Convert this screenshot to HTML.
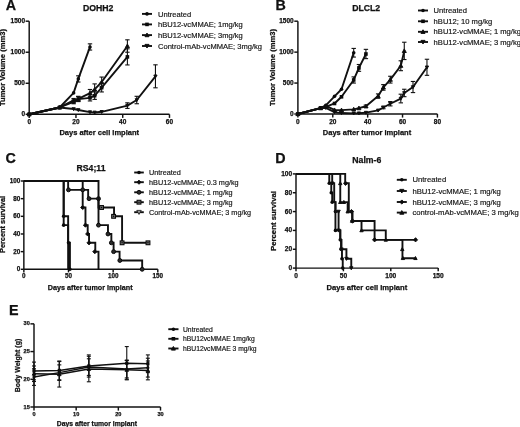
<!DOCTYPE html>
<html><head><meta charset="utf-8"><title>Figure</title>
<style>
html,body{margin:0;padding:0;background:#fff;}
body{width:520px;height:427px;overflow:hidden;}
svg{display:block;filter:blur(0.35px);font-family:"Liberation Sans",sans-serif;fill:#111;}
svg line, svg path{stroke:#111;}
svg text{stroke:#222;stroke-width:0.18px;}
svg text[font-weight=bold]{stroke:#111;stroke-width:0.25px;}
</style></head><body>
<svg width="520" height="427" viewBox="0 0 520 427">
<rect x="0" y="0" width="520" height="427" fill="#fff" stroke="none"/>

<g id="panelA">
<text x="5.8" y="10.1" font-size="14.3" font-weight="bold" text-anchor="start">A</text>
<text x="98.1" y="11.2" font-size="8.7" font-weight="bold" text-anchor="middle">DOHH2</text>
<line x1="29.20" y1="114.30" x2="169.48" y2="114.30" stroke-width="1.45"/>
<line x1="29.20" y1="114.30" x2="29.20" y2="21.19" stroke-width="1.45"/>
<line x1="29.20" y1="114.30" x2="29.20" y2="117.90" stroke-width="1.45"/>
<text x="29.2" y="124.1" font-size="6.5" font-weight="bold" text-anchor="middle">0</text>
<line x1="75.96" y1="114.30" x2="75.96" y2="117.90" stroke-width="1.45"/>
<text x="75.96" y="124.1" font-size="6.5" font-weight="bold" text-anchor="middle">20</text>
<line x1="122.72" y1="114.30" x2="122.72" y2="117.90" stroke-width="1.45"/>
<text x="122.72" y="124.1" font-size="6.5" font-weight="bold" text-anchor="middle">40</text>
<line x1="169.48" y1="114.30" x2="169.48" y2="117.90" stroke-width="1.45"/>
<text x="169.48" y="124.1" font-size="6.5" font-weight="bold" text-anchor="middle">60</text>
<line x1="25.60" y1="114.30" x2="29.20" y2="114.30" stroke-width="1.45"/>
<text x="25.0" y="116.24" font-size="6.5" font-weight="bold" text-anchor="end">0</text>
<line x1="25.60" y1="83.27" x2="29.20" y2="83.27" stroke-width="1.45"/>
<text x="25.0" y="85.2" font-size="6.5" font-weight="bold" text-anchor="end">500</text>
<line x1="25.60" y1="52.23" x2="29.20" y2="52.23" stroke-width="1.45"/>
<text x="25.0" y="54.17" font-size="6.5" font-weight="bold" text-anchor="end">1000</text>
<line x1="25.60" y1="21.19" x2="29.20" y2="21.19" stroke-width="1.45"/>
<text x="25.0" y="23.13" font-size="6.5" font-weight="bold" text-anchor="end">1500</text>
<text x="99.2" y="135.2" font-size="7.5" font-weight="bold" text-anchor="middle">Days after cell implant</text>
<text x="5.4" y="67.5" font-size="7.6" font-weight="bold" text-anchor="middle" transform="rotate(-90 5.4 67.5)">Tumor Volume (mm3)</text>
<path d="M29.20 114.30 L59.59 107.47 L73.62 92.89 L78.30 78.92 L89.99 46.95" fill="none" stroke-width="1.9" stroke-linejoin="round"/>
<line x1="78.30" y1="75.82" x2="78.30" y2="82.02" stroke-width="1.1"/>
<line x1="76.10" y1="75.82" x2="80.50" y2="75.82" stroke-width="1.1"/>
<line x1="76.10" y1="82.02" x2="80.50" y2="82.02" stroke-width="1.1"/>
<line x1="89.99" y1="43.85" x2="89.99" y2="50.06" stroke-width="1.1"/>
<line x1="87.79" y1="43.85" x2="92.19" y2="43.85" stroke-width="1.1"/>
<line x1="87.79" y1="50.06" x2="92.19" y2="50.06" stroke-width="1.1"/>
<circle cx="29.20" cy="114.30" r="1.8" fill="#0a0a0a" stroke="none"/>
<circle cx="59.59" cy="107.47" r="1.8" fill="#0a0a0a" stroke="none"/>
<circle cx="73.62" cy="92.89" r="1.8" fill="#0a0a0a" stroke="none"/>
<circle cx="78.30" cy="78.92" r="1.8" fill="#0a0a0a" stroke="none"/>
<circle cx="89.99" cy="46.95" r="1.8" fill="#0a0a0a" stroke="none"/>
<path d="M29.20 114.30 L59.59 107.47 L73.62 101.89 L78.30 99.09 L89.99 97.85 L94.66 95.68 L101.68 87.61 L127.40 56.89" fill="none" stroke-width="1.9" stroke-linejoin="round"/>
<line x1="73.62" y1="100.02" x2="73.62" y2="103.75" stroke-width="1.1"/>
<line x1="71.42" y1="100.02" x2="75.82" y2="100.02" stroke-width="1.1"/>
<line x1="71.42" y1="103.75" x2="75.82" y2="103.75" stroke-width="1.1"/>
<line x1="78.30" y1="96.61" x2="78.30" y2="101.58" stroke-width="1.1"/>
<line x1="76.10" y1="96.61" x2="80.50" y2="96.61" stroke-width="1.1"/>
<line x1="76.10" y1="101.58" x2="80.50" y2="101.58" stroke-width="1.1"/>
<line x1="89.99" y1="94.75" x2="89.99" y2="100.95" stroke-width="1.1"/>
<line x1="87.79" y1="94.75" x2="92.19" y2="94.75" stroke-width="1.1"/>
<line x1="87.79" y1="100.95" x2="92.19" y2="100.95" stroke-width="1.1"/>
<line x1="94.66" y1="91.95" x2="94.66" y2="99.40" stroke-width="1.1"/>
<line x1="92.46" y1="91.95" x2="96.86" y2="91.95" stroke-width="1.1"/>
<line x1="92.46" y1="99.40" x2="96.86" y2="99.40" stroke-width="1.1"/>
<line x1="101.68" y1="83.27" x2="101.68" y2="91.95" stroke-width="1.1"/>
<line x1="99.48" y1="83.27" x2="103.88" y2="83.27" stroke-width="1.1"/>
<line x1="99.48" y1="91.95" x2="103.88" y2="91.95" stroke-width="1.1"/>
<line x1="127.40" y1="48.82" x2="127.40" y2="64.95" stroke-width="1.1"/>
<line x1="125.20" y1="48.82" x2="129.60" y2="48.82" stroke-width="1.1"/>
<line x1="125.20" y1="64.95" x2="129.60" y2="64.95" stroke-width="1.1"/>
<rect x="27.40" y="112.50" width="3.6" height="3.6" fill="#0a0a0a" stroke="none"/>
<rect x="57.79" y="105.67" width="3.6" height="3.6" fill="#0a0a0a" stroke="none"/>
<rect x="71.82" y="100.09" width="3.6" height="3.6" fill="#0a0a0a" stroke="none"/>
<rect x="76.50" y="97.29" width="3.6" height="3.6" fill="#0a0a0a" stroke="none"/>
<rect x="88.19" y="96.05" width="3.6" height="3.6" fill="#0a0a0a" stroke="none"/>
<rect x="92.86" y="93.88" width="3.6" height="3.6" fill="#0a0a0a" stroke="none"/>
<rect x="99.88" y="85.81" width="3.6" height="3.6" fill="#0a0a0a" stroke="none"/>
<rect x="125.60" y="55.09" width="3.6" height="3.6" fill="#0a0a0a" stroke="none"/>
<path d="M29.20 114.30 L59.59 107.47 L73.62 100.33 L78.30 98.78 L89.99 93.20 L94.66 89.47 L101.68 82.02 L127.40 46.02" fill="none" stroke-width="1.9" stroke-linejoin="round"/>
<line x1="73.62" y1="98.47" x2="73.62" y2="102.20" stroke-width="1.1"/>
<line x1="71.42" y1="98.47" x2="75.82" y2="98.47" stroke-width="1.1"/>
<line x1="71.42" y1="102.20" x2="75.82" y2="102.20" stroke-width="1.1"/>
<line x1="78.30" y1="96.30" x2="78.30" y2="101.27" stroke-width="1.1"/>
<line x1="76.10" y1="96.30" x2="80.50" y2="96.30" stroke-width="1.1"/>
<line x1="76.10" y1="101.27" x2="80.50" y2="101.27" stroke-width="1.1"/>
<line x1="89.99" y1="89.47" x2="89.99" y2="96.92" stroke-width="1.1"/>
<line x1="87.79" y1="89.47" x2="92.19" y2="89.47" stroke-width="1.1"/>
<line x1="87.79" y1="96.92" x2="92.19" y2="96.92" stroke-width="1.1"/>
<line x1="94.66" y1="83.89" x2="94.66" y2="95.06" stroke-width="1.1"/>
<line x1="92.46" y1="83.89" x2="96.86" y2="83.89" stroke-width="1.1"/>
<line x1="92.46" y1="95.06" x2="96.86" y2="95.06" stroke-width="1.1"/>
<line x1="101.68" y1="77.06" x2="101.68" y2="86.99" stroke-width="1.1"/>
<line x1="99.48" y1="77.06" x2="103.88" y2="77.06" stroke-width="1.1"/>
<line x1="99.48" y1="86.99" x2="103.88" y2="86.99" stroke-width="1.1"/>
<line x1="127.40" y1="39.82" x2="127.40" y2="52.23" stroke-width="1.1"/>
<line x1="125.20" y1="39.82" x2="129.60" y2="39.82" stroke-width="1.1"/>
<line x1="125.20" y1="52.23" x2="129.60" y2="52.23" stroke-width="1.1"/>
<path d="M29.20 112.28 L31.22 115.91 L27.18 115.91Z" fill="#0a0a0a" stroke="none"/>
<path d="M59.59 105.46 L61.61 109.09 L57.58 109.09Z" fill="#0a0a0a" stroke="none"/>
<path d="M73.62 98.32 L75.64 101.95 L71.61 101.95Z" fill="#0a0a0a" stroke="none"/>
<path d="M78.30 96.77 L80.31 100.40 L76.28 100.40Z" fill="#0a0a0a" stroke="none"/>
<path d="M89.99 91.18 L92.00 94.81 L87.97 94.81Z" fill="#0a0a0a" stroke="none"/>
<path d="M94.66 87.46 L96.68 91.08 L92.65 91.08Z" fill="#0a0a0a" stroke="none"/>
<path d="M101.68 80.01 L103.69 83.64 L99.66 83.64Z" fill="#0a0a0a" stroke="none"/>
<path d="M127.40 44.01 L129.41 47.64 L125.38 47.64Z" fill="#0a0a0a" stroke="none"/>
<path d="M29.20 114.30 L59.59 107.47 L73.62 109.02 L78.30 109.96 L89.99 112.13 L94.66 112.44 L101.68 111.82 L127.40 105.61 L136.75 100.02 L155.45 76.31" fill="none" stroke-width="1.9" stroke-linejoin="round"/>
<line x1="127.40" y1="102.82" x2="127.40" y2="108.40" stroke-width="1.1"/>
<line x1="125.20" y1="102.82" x2="129.60" y2="102.82" stroke-width="1.1"/>
<line x1="125.20" y1="108.40" x2="129.60" y2="108.40" stroke-width="1.1"/>
<line x1="136.75" y1="96.30" x2="136.75" y2="103.75" stroke-width="1.1"/>
<line x1="134.55" y1="96.30" x2="138.95" y2="96.30" stroke-width="1.1"/>
<line x1="134.55" y1="103.75" x2="138.95" y2="103.75" stroke-width="1.1"/>
<line x1="155.45" y1="64.83" x2="155.45" y2="87.80" stroke-width="1.1"/>
<line x1="153.25" y1="64.83" x2="157.65" y2="64.83" stroke-width="1.1"/>
<line x1="153.25" y1="87.80" x2="157.65" y2="87.80" stroke-width="1.1"/>
<path d="M29.20 115.92 L30.82 113.00 L27.58 113.00Z" fill="#0a0a0a" stroke="none"/>
<path d="M59.59 109.10 L61.22 106.17 L57.97 106.17Z" fill="#0a0a0a" stroke="none"/>
<path d="M73.62 110.65 L75.25 107.72 L72.00 107.72Z" fill="#0a0a0a" stroke="none"/>
<path d="M78.30 111.58 L79.92 108.66 L76.67 108.66Z" fill="#0a0a0a" stroke="none"/>
<path d="M89.99 113.75 L91.61 110.83 L88.36 110.83Z" fill="#0a0a0a" stroke="none"/>
<path d="M94.66 114.06 L96.29 111.14 L93.04 111.14Z" fill="#0a0a0a" stroke="none"/>
<path d="M101.68 113.44 L103.30 110.52 L100.05 110.52Z" fill="#0a0a0a" stroke="none"/>
<path d="M127.40 107.23 L129.02 104.31 L125.77 104.31Z" fill="#0a0a0a" stroke="none"/>
<path d="M136.75 101.65 L138.37 98.72 L135.12 98.72Z" fill="#0a0a0a" stroke="none"/>
<path d="M155.45 77.94 L157.08 75.01 L153.83 75.01Z" fill="#0a0a0a" stroke="none"/>
<line x1="142.00" y1="13.90" x2="152.00" y2="13.90" stroke-width="1.9"/>
<circle cx="147.00" cy="13.90" r="1.8" fill="#0a0a0a" stroke="none"/>
<text x="158" y="16.5" font-size="7.56" text-anchor="start">Untreated</text>
<line x1="142.00" y1="24.40" x2="152.00" y2="24.40" stroke-width="1.9"/>
<rect x="145.20" y="22.60" width="3.6" height="3.6" fill="#0a0a0a" stroke="none"/>
<text x="158" y="27.0" font-size="7.56" text-anchor="start">hBU12-vcMMAE; 1mg/kg</text>
<line x1="142.00" y1="35.10" x2="152.00" y2="35.10" stroke-width="1.9"/>
<path d="M147.00 33.08 L149.02 36.71 L144.98 36.71Z" fill="#0a0a0a" stroke="none"/>
<text x="158" y="37.7" font-size="7.56" text-anchor="start">hBU12-vcMMAE; 3mg/kg</text>
<line x1="142.00" y1="46.00" x2="152.00" y2="46.00" stroke-width="1.9"/>
<path d="M147.00 48.02 L149.02 44.39 L144.98 44.39Z" fill="#0a0a0a" stroke="none"/>
<text x="158" y="48.6" font-size="7.56" text-anchor="start">Control-mAb-vcMMAE; 3mg/kg</text>
</g>
<g id="panelB">
<text x="275.4" y="10.1" font-size="14.3" font-weight="bold" text-anchor="start">B</text>
<text x="366.2" y="11.2" font-size="8.7" font-weight="bold" text-anchor="middle">DLCL2</text>
<line x1="297.90" y1="114.00" x2="437.42" y2="114.00" stroke-width="1.45"/>
<line x1="297.90" y1="114.00" x2="297.90" y2="21.19" stroke-width="1.45"/>
<line x1="297.90" y1="114.00" x2="297.90" y2="117.60" stroke-width="1.45"/>
<text x="297.9" y="123.8" font-size="6.5" font-weight="bold" text-anchor="middle">0</text>
<line x1="332.78" y1="114.00" x2="332.78" y2="117.60" stroke-width="1.45"/>
<text x="332.78" y="123.8" font-size="6.5" font-weight="bold" text-anchor="middle">20</text>
<line x1="367.66" y1="114.00" x2="367.66" y2="117.60" stroke-width="1.45"/>
<text x="367.66" y="123.8" font-size="6.5" font-weight="bold" text-anchor="middle">40</text>
<line x1="402.54" y1="114.00" x2="402.54" y2="117.60" stroke-width="1.45"/>
<text x="402.54" y="123.8" font-size="6.5" font-weight="bold" text-anchor="middle">60</text>
<line x1="437.42" y1="114.00" x2="437.42" y2="117.60" stroke-width="1.45"/>
<text x="437.42" y="123.8" font-size="6.5" font-weight="bold" text-anchor="middle">80</text>
<line x1="294.30" y1="114.00" x2="297.90" y2="114.00" stroke-width="1.45"/>
<text x="293.7" y="115.94" font-size="6.5" font-weight="bold" text-anchor="end">0</text>
<line x1="294.30" y1="83.06" x2="297.90" y2="83.06" stroke-width="1.45"/>
<text x="293.7" y="85.0" font-size="6.5" font-weight="bold" text-anchor="end">500</text>
<line x1="294.30" y1="52.13" x2="297.90" y2="52.13" stroke-width="1.45"/>
<text x="293.7" y="54.07" font-size="6.5" font-weight="bold" text-anchor="end">1000</text>
<line x1="294.30" y1="21.19" x2="297.90" y2="21.19" stroke-width="1.45"/>
<text x="293.7" y="23.13" font-size="6.5" font-weight="bold" text-anchor="end">1500</text>
<text x="367" y="135.0" font-size="7.5" font-weight="bold" text-anchor="middle">Days after tumor implant</text>
<text x="274.7" y="67.5" font-size="7.6" font-weight="bold" text-anchor="middle" transform="rotate(-90 274.7 67.5)">Tumor Volume (mm3)</text>
<path d="M297.90 114.00 L320.57 108.12 L325.80 105.34 L334.52 96.37 L341.50 89.25 L353.71 52.75" fill="none" stroke-width="1.9" stroke-linejoin="round"/>
<line x1="353.71" y1="48.42" x2="353.71" y2="57.08" stroke-width="1.1"/>
<line x1="351.51" y1="48.42" x2="355.91" y2="48.42" stroke-width="1.1"/>
<line x1="351.51" y1="57.08" x2="355.91" y2="57.08" stroke-width="1.1"/>
<circle cx="297.90" cy="114.00" r="1.8" fill="#0a0a0a" stroke="none"/>
<circle cx="320.57" cy="108.12" r="1.8" fill="#0a0a0a" stroke="none"/>
<circle cx="325.80" cy="105.34" r="1.8" fill="#0a0a0a" stroke="none"/>
<circle cx="334.52" cy="96.37" r="1.8" fill="#0a0a0a" stroke="none"/>
<circle cx="341.50" cy="89.25" r="1.8" fill="#0a0a0a" stroke="none"/>
<circle cx="353.71" cy="52.75" r="1.8" fill="#0a0a0a" stroke="none"/>
<path d="M297.90 114.00 L320.57 108.12 L325.80 106.88 L334.52 103.48 L341.50 96.80 L353.71 79.97 L358.94 67.91 L365.92 53.99" fill="none" stroke-width="1.9" stroke-linejoin="round"/>
<line x1="353.71" y1="76.88" x2="353.71" y2="83.06" stroke-width="1.1"/>
<line x1="351.51" y1="76.88" x2="355.91" y2="76.88" stroke-width="1.1"/>
<line x1="351.51" y1="83.06" x2="355.91" y2="83.06" stroke-width="1.1"/>
<line x1="358.94" y1="64.50" x2="358.94" y2="71.31" stroke-width="1.1"/>
<line x1="356.74" y1="64.50" x2="361.14" y2="64.50" stroke-width="1.1"/>
<line x1="356.74" y1="71.31" x2="361.14" y2="71.31" stroke-width="1.1"/>
<line x1="365.92" y1="49.35" x2="365.92" y2="58.63" stroke-width="1.1"/>
<line x1="363.72" y1="49.35" x2="368.12" y2="49.35" stroke-width="1.1"/>
<line x1="363.72" y1="58.63" x2="368.12" y2="58.63" stroke-width="1.1"/>
<rect x="296.10" y="112.20" width="3.6" height="3.6" fill="#0a0a0a" stroke="none"/>
<rect x="318.77" y="106.32" width="3.6" height="3.6" fill="#0a0a0a" stroke="none"/>
<rect x="324.00" y="105.08" width="3.6" height="3.6" fill="#0a0a0a" stroke="none"/>
<rect x="332.72" y="101.68" width="3.6" height="3.6" fill="#0a0a0a" stroke="none"/>
<rect x="339.70" y="95.00" width="3.6" height="3.6" fill="#0a0a0a" stroke="none"/>
<rect x="351.91" y="78.17" width="3.6" height="3.6" fill="#0a0a0a" stroke="none"/>
<rect x="357.14" y="66.11" width="3.6" height="3.6" fill="#0a0a0a" stroke="none"/>
<rect x="364.12" y="52.19" width="3.6" height="3.6" fill="#0a0a0a" stroke="none"/>
<path d="M297.90 114.00 L320.57 108.12 L325.80 105.96 L334.52 109.98 L341.50 110.16 L353.71 109.36 L358.94 108.12 L365.92 106.27 L378.12 96.06 L383.36 87.40 L390.33 79.66 L400.80 65.74 L404.28 50.89" fill="none" stroke-width="1.9" stroke-linejoin="round"/>
<line x1="365.92" y1="105.03" x2="365.92" y2="107.50" stroke-width="1.1"/>
<line x1="363.72" y1="105.03" x2="368.12" y2="105.03" stroke-width="1.1"/>
<line x1="363.72" y1="107.50" x2="368.12" y2="107.50" stroke-width="1.1"/>
<line x1="378.12" y1="93.89" x2="378.12" y2="98.22" stroke-width="1.1"/>
<line x1="375.92" y1="93.89" x2="380.32" y2="93.89" stroke-width="1.1"/>
<line x1="375.92" y1="98.22" x2="380.32" y2="98.22" stroke-width="1.1"/>
<line x1="383.36" y1="84.61" x2="383.36" y2="90.18" stroke-width="1.1"/>
<line x1="381.16" y1="84.61" x2="385.56" y2="84.61" stroke-width="1.1"/>
<line x1="381.16" y1="90.18" x2="385.56" y2="90.18" stroke-width="1.1"/>
<line x1="390.33" y1="76.26" x2="390.33" y2="83.06" stroke-width="1.1"/>
<line x1="388.13" y1="76.26" x2="392.53" y2="76.26" stroke-width="1.1"/>
<line x1="388.13" y1="83.06" x2="392.53" y2="83.06" stroke-width="1.1"/>
<line x1="400.80" y1="60.79" x2="400.80" y2="70.69" stroke-width="1.1"/>
<line x1="398.60" y1="60.79" x2="403.00" y2="60.79" stroke-width="1.1"/>
<line x1="398.60" y1="70.69" x2="403.00" y2="70.69" stroke-width="1.1"/>
<line x1="404.28" y1="42.23" x2="404.28" y2="59.55" stroke-width="1.1"/>
<line x1="402.08" y1="42.23" x2="406.48" y2="42.23" stroke-width="1.1"/>
<line x1="402.08" y1="59.55" x2="406.48" y2="59.55" stroke-width="1.1"/>
<path d="M297.90 111.98 L299.92 115.61 L295.88 115.61Z" fill="#0a0a0a" stroke="none"/>
<path d="M320.57 106.11 L322.59 109.74 L318.56 109.74Z" fill="#0a0a0a" stroke="none"/>
<path d="M325.80 103.94 L327.82 107.57 L323.79 107.57Z" fill="#0a0a0a" stroke="none"/>
<path d="M334.52 107.96 L336.54 111.59 L332.51 111.59Z" fill="#0a0a0a" stroke="none"/>
<path d="M341.50 108.15 L343.52 111.78 L339.48 111.78Z" fill="#0a0a0a" stroke="none"/>
<path d="M353.71 107.34 L355.72 110.97 L351.69 110.97Z" fill="#0a0a0a" stroke="none"/>
<path d="M358.94 106.11 L360.96 109.74 L356.92 109.74Z" fill="#0a0a0a" stroke="none"/>
<path d="M365.92 104.25 L367.93 107.88 L363.90 107.88Z" fill="#0a0a0a" stroke="none"/>
<path d="M378.12 94.04 L380.14 97.67 L376.11 97.67Z" fill="#0a0a0a" stroke="none"/>
<path d="M383.36 85.38 L385.37 89.01 L381.34 89.01Z" fill="#0a0a0a" stroke="none"/>
<path d="M390.33 77.65 L392.35 81.27 L388.32 81.27Z" fill="#0a0a0a" stroke="none"/>
<path d="M400.80 63.73 L402.81 67.35 L398.78 67.35Z" fill="#0a0a0a" stroke="none"/>
<path d="M404.28 48.88 L406.30 52.51 L402.27 52.51Z" fill="#0a0a0a" stroke="none"/>
<path d="M297.90 114.00 L320.57 108.12 L325.80 107.81 L334.52 112.14 L341.50 113.07 L353.71 113.38 L358.94 113.26 L365.92 112.64 L378.12 110.41 L383.36 107.50 L390.33 103.73 L400.80 98.53 L404.28 92.96 L413.00 87.02 L426.96 67.29" fill="none" stroke-width="1.9" stroke-linejoin="round"/>
<line x1="383.36" y1="106.27" x2="383.36" y2="108.74" stroke-width="1.1"/>
<line x1="381.16" y1="106.27" x2="385.56" y2="106.27" stroke-width="1.1"/>
<line x1="381.16" y1="108.74" x2="385.56" y2="108.74" stroke-width="1.1"/>
<line x1="390.33" y1="101.56" x2="390.33" y2="105.90" stroke-width="1.1"/>
<line x1="388.13" y1="101.56" x2="392.53" y2="101.56" stroke-width="1.1"/>
<line x1="388.13" y1="105.90" x2="392.53" y2="105.90" stroke-width="1.1"/>
<line x1="400.80" y1="94.20" x2="400.80" y2="102.86" stroke-width="1.1"/>
<line x1="398.60" y1="94.20" x2="403.00" y2="94.20" stroke-width="1.1"/>
<line x1="398.60" y1="102.86" x2="403.00" y2="102.86" stroke-width="1.1"/>
<line x1="404.28" y1="89.25" x2="404.28" y2="96.68" stroke-width="1.1"/>
<line x1="402.08" y1="89.25" x2="406.48" y2="89.25" stroke-width="1.1"/>
<line x1="402.08" y1="96.68" x2="406.48" y2="96.68" stroke-width="1.1"/>
<line x1="413.00" y1="81.46" x2="413.00" y2="92.59" stroke-width="1.1"/>
<line x1="410.80" y1="81.46" x2="415.20" y2="81.46" stroke-width="1.1"/>
<line x1="410.80" y1="92.59" x2="415.20" y2="92.59" stroke-width="1.1"/>
<line x1="426.96" y1="59.25" x2="426.96" y2="75.33" stroke-width="1.1"/>
<line x1="424.76" y1="59.25" x2="429.16" y2="59.25" stroke-width="1.1"/>
<line x1="424.76" y1="75.33" x2="429.16" y2="75.33" stroke-width="1.1"/>
<path d="M297.90 115.62 L299.52 112.70 L296.28 112.70Z" fill="#0a0a0a" stroke="none"/>
<path d="M320.57 109.75 L322.20 106.82 L318.95 106.82Z" fill="#0a0a0a" stroke="none"/>
<path d="M325.80 109.44 L327.43 106.51 L324.18 106.51Z" fill="#0a0a0a" stroke="none"/>
<path d="M334.52 113.77 L336.15 110.84 L332.90 110.84Z" fill="#0a0a0a" stroke="none"/>
<path d="M341.50 114.70 L343.12 111.77 L339.88 111.77Z" fill="#0a0a0a" stroke="none"/>
<path d="M353.71 115.01 L355.33 112.08 L352.08 112.08Z" fill="#0a0a0a" stroke="none"/>
<path d="M358.94 114.88 L360.56 111.96 L357.32 111.96Z" fill="#0a0a0a" stroke="none"/>
<path d="M365.92 114.26 L367.54 111.34 L364.29 111.34Z" fill="#0a0a0a" stroke="none"/>
<path d="M378.12 112.04 L379.75 109.11 L376.50 109.11Z" fill="#0a0a0a" stroke="none"/>
<path d="M383.36 109.13 L384.98 106.20 L381.73 106.20Z" fill="#0a0a0a" stroke="none"/>
<path d="M390.33 105.35 L391.96 102.43 L388.71 102.43Z" fill="#0a0a0a" stroke="none"/>
<path d="M400.80 100.16 L402.42 97.23 L399.17 97.23Z" fill="#0a0a0a" stroke="none"/>
<path d="M404.28 94.59 L405.91 91.67 L402.66 91.67Z" fill="#0a0a0a" stroke="none"/>
<path d="M413.00 88.65 L414.63 85.73 L411.38 85.73Z" fill="#0a0a0a" stroke="none"/>
<path d="M426.96 68.91 L428.58 65.99 L425.33 65.99Z" fill="#0a0a0a" stroke="none"/>
<line x1="418.00" y1="10.50" x2="428.00" y2="10.50" stroke-width="1.9"/>
<circle cx="423.00" cy="10.50" r="1.8" fill="#0a0a0a" stroke="none"/>
<text x="433.6" y="13.1" font-size="7.6" text-anchor="start">Untreated</text>
<line x1="418.00" y1="21.30" x2="428.00" y2="21.30" stroke-width="1.9"/>
<rect x="421.20" y="19.50" width="3.6" height="3.6" fill="#0a0a0a" stroke="none"/>
<text x="433.6" y="23.9" font-size="7.6" text-anchor="start">hBU12; 10 mg/kg</text>
<line x1="418.00" y1="31.80" x2="428.00" y2="31.80" stroke-width="1.9"/>
<path d="M423.00 29.78 L425.02 33.41 L420.98 33.41Z" fill="#0a0a0a" stroke="none"/>
<text x="433.6" y="34.4" font-size="7.6" text-anchor="start">hBU12-vcMMAE; 1 mg/kg</text>
<line x1="418.00" y1="42.00" x2="428.00" y2="42.00" stroke-width="1.9"/>
<path d="M423.00 44.02 L425.02 40.39 L420.98 40.39Z" fill="#0a0a0a" stroke="none"/>
<text x="433.6" y="44.6" font-size="7.6" text-anchor="start">hBU12-vcMMAE; 3 mg/kg</text>
</g>
<g id="panelC">
<text x="5.6" y="162.6" font-size="14.3" font-weight="bold" text-anchor="start">C</text>
<text x="91" y="171.2" font-size="8.7" font-weight="bold" text-anchor="middle">RS4;11</text>
<line x1="23.85" y1="269.30" x2="157.80" y2="269.30" stroke-width="1.45"/>
<line x1="23.85" y1="269.30" x2="23.85" y2="181.00" stroke-width="1.45"/>
<line x1="23.85" y1="269.30" x2="23.85" y2="272.40" stroke-width="1.45"/>
<text x="23.85" y="278.3" font-size="6.3" font-weight="bold" text-anchor="middle">0</text>
<line x1="68.50" y1="269.30" x2="68.50" y2="272.40" stroke-width="1.45"/>
<text x="68.5" y="278.3" font-size="6.3" font-weight="bold" text-anchor="middle">50</text>
<line x1="113.15" y1="269.30" x2="113.15" y2="272.40" stroke-width="1.45"/>
<text x="113.15" y="278.3" font-size="6.3" font-weight="bold" text-anchor="middle">100</text>
<line x1="157.80" y1="269.30" x2="157.80" y2="272.40" stroke-width="1.45"/>
<text x="157.8" y="278.3" font-size="6.3" font-weight="bold" text-anchor="middle">150</text>
<line x1="20.75" y1="269.30" x2="23.85" y2="269.30" stroke-width="1.45"/>
<text x="20.15" y="271.17" font-size="6.3" font-weight="bold" text-anchor="end">0</text>
<line x1="20.75" y1="251.64" x2="23.85" y2="251.64" stroke-width="1.45"/>
<text x="20.15" y="253.51" font-size="6.3" font-weight="bold" text-anchor="end">20</text>
<line x1="20.75" y1="233.98" x2="23.85" y2="233.98" stroke-width="1.45"/>
<text x="20.15" y="235.85" font-size="6.3" font-weight="bold" text-anchor="end">40</text>
<line x1="20.75" y1="216.32" x2="23.85" y2="216.32" stroke-width="1.45"/>
<text x="20.15" y="218.19" font-size="6.3" font-weight="bold" text-anchor="end">60</text>
<line x1="20.75" y1="198.66" x2="23.85" y2="198.66" stroke-width="1.45"/>
<text x="20.15" y="200.53" font-size="6.3" font-weight="bold" text-anchor="end">80</text>
<line x1="20.75" y1="181.00" x2="23.85" y2="181.00" stroke-width="1.45"/>
<text x="20.15" y="182.87" font-size="6.3" font-weight="bold" text-anchor="end">100</text>
<text x="90.2" y="289.6" font-size="7.2" font-weight="bold" text-anchor="middle">Days after tumor implant</text>
<text x="5.3" y="224.5" font-size="7.4" font-weight="bold" text-anchor="middle" transform="rotate(-90 5.3 224.5)">Percent survival</text>
<path d="M23.85 181.00 L63.68 181.00 L63.68 216.32 L68.14 216.32 L68.14 269.30" fill="none" stroke-width="1.9" stroke-linejoin="miter"/>
<path d="M23.85 181.00 L63.68 181.00 L63.68 225.15 L68.14 225.15 L68.14 242.81 L69.93 242.81 L69.93 269.30" fill="none" stroke-width="1.9" stroke-linejoin="miter"/>
<circle cx="63.68" cy="216.32" r="1.8" fill="#0a0a0a" stroke="none"/>
<circle cx="63.68" cy="225.15" r="1.8" fill="#0a0a0a" stroke="none"/>
<circle cx="68.50" cy="242.81" r="1.8" fill="#0a0a0a" stroke="none"/>
<circle cx="69.93" cy="269.30" r="1.8" fill="#0a0a0a" stroke="none"/>
<path d="M23.85 181.00 L82.70 181.00 L82.70 207.49 L85.47 207.49 L85.47 225.15 L87.70 225.15 L87.70 233.98 L89.04 233.98 L89.04 242.81 L95.29 242.81 L95.29 251.64 L98.50 251.64 L98.50 269.30" fill="none" stroke-width="1.9" stroke-linejoin="miter"/>
<path d="M82.70 205.42 L84.77 207.49 L82.70 209.56 L80.63 207.49Z" fill="#0a0a0a" stroke="none"/>
<path d="M85.47 223.08 L87.54 225.15 L85.47 227.22 L83.40 225.15Z" fill="#0a0a0a" stroke="none"/>
<path d="M87.70 231.91 L89.77 233.98 L87.70 236.05 L85.63 233.98Z" fill="#0a0a0a" stroke="none"/>
<path d="M89.04 240.74 L91.11 242.81 L89.04 244.88 L86.97 242.81Z" fill="#0a0a0a" stroke="none"/>
<path d="M94.84 249.57 L96.91 251.64 L94.84 253.71 L92.77 251.64Z" fill="#0a0a0a" stroke="none"/>
<path d="M23.85 181.00 L68.14 181.00 L68.14 189.83 L88.15 189.83 L88.15 198.66 L98.50 198.66 L98.50 225.15 L107.97 225.15 L107.97 233.98 L111.36 233.98 L111.36 242.81 L113.60 242.81 L113.60 251.64 L119.58 251.64 L119.58 260.47 L142.17 260.47 L142.17 269.30" fill="none" stroke-width="1.9" stroke-linejoin="miter"/>
<circle cx="68.50" cy="189.83" r="1.95" fill="#2a2a2a" stroke="#0a0a0a" stroke-width="1.0"/>
<circle cx="82.70" cy="189.83" r="1.95" fill="#2a2a2a" stroke="#0a0a0a" stroke-width="1.0"/>
<circle cx="89.04" cy="198.66" r="1.95" fill="#2a2a2a" stroke="#0a0a0a" stroke-width="1.0"/>
<circle cx="98.50" cy="198.66" r="1.95" fill="#2a2a2a" stroke="#0a0a0a" stroke-width="1.0"/>
<circle cx="98.50" cy="225.15" r="1.95" fill="#2a2a2a" stroke="#0a0a0a" stroke-width="1.0"/>
<circle cx="107.97" cy="233.98" r="1.95" fill="#2a2a2a" stroke="#0a0a0a" stroke-width="1.0"/>
<circle cx="111.36" cy="242.81" r="1.95" fill="#2a2a2a" stroke="#0a0a0a" stroke-width="1.0"/>
<circle cx="113.60" cy="251.64" r="1.95" fill="#2a2a2a" stroke="#0a0a0a" stroke-width="1.0"/>
<circle cx="119.85" cy="260.47" r="1.95" fill="#2a2a2a" stroke="#0a0a0a" stroke-width="1.0"/>
<circle cx="142.17" cy="269.30" r="1.95" fill="#2a2a2a" stroke="#0a0a0a" stroke-width="1.0"/>
<path d="M23.85 181.00 L98.50 181.00 L98.50 207.49 L114.04 207.49 L114.04 216.32 L122.08 216.32 L122.08 242.81 L147.98 242.81" fill="none" stroke-width="1.9" stroke-linejoin="miter"/>
<rect x="99.64" y="205.59" width="3.80" height="3.80" fill="#777" stroke="#0a0a0a" stroke-width="1.1"/>
<circle cx="101.54" cy="207.49" r="0.8" fill="#0a0a0a" stroke="none"/>
<rect x="111.70" y="214.42" width="3.80" height="3.80" fill="#777" stroke="#0a0a0a" stroke-width="1.1"/>
<circle cx="113.60" cy="216.32" r="0.8" fill="#0a0a0a" stroke="none"/>
<rect x="120.18" y="240.91" width="3.80" height="3.80" fill="#777" stroke="#0a0a0a" stroke-width="1.1"/>
<circle cx="122.08" cy="242.81" r="0.8" fill="#0a0a0a" stroke="none"/>
<rect x="146.08" y="240.91" width="3.80" height="3.80" fill="#777" stroke="#0a0a0a" stroke-width="1.1"/>
<circle cx="147.98" cy="242.81" r="0.8" fill="#0a0a0a" stroke="none"/>
<line x1="134.20" y1="172.50" x2="143.80" y2="172.50" stroke-width="1.9"/>
<circle cx="139.00" cy="172.50" r="1.8" fill="#0a0a0a" stroke="none"/>
<text x="149.0" y="175.1" font-size="7.27" text-anchor="start">Untreated</text>
<line x1="134.20" y1="182.20" x2="143.80" y2="182.20" stroke-width="1.9"/>
<path d="M139.00 180.13 L141.07 182.20 L139.00 184.27 L136.93 182.20Z" fill="#0a0a0a" stroke="none"/>
<text x="149.0" y="184.8" font-size="7.27" text-anchor="start">hBU12-vcMMAE; 0.3 mg/kg</text>
<line x1="134.20" y1="192.30" x2="143.80" y2="192.30" stroke-width="1.9"/>
<circle cx="139.00" cy="192.30" r="1.95" fill="#2a2a2a" stroke="#0a0a0a" stroke-width="1.0"/>
<text x="149.0" y="194.9" font-size="7.27" text-anchor="start">hBU12-vcMMAE; 1 mg/kg</text>
<line x1="134.20" y1="202.20" x2="143.80" y2="202.20" stroke-width="1.9"/>
<rect x="137.10" y="200.30" width="3.80" height="3.80" fill="#777" stroke="#0a0a0a" stroke-width="1.1"/>
<circle cx="139.00" cy="202.20" r="0.8" fill="#0a0a0a" stroke="none"/>
<text x="149.0" y="204.8" font-size="7.27" text-anchor="start">hBU12-vcMMAE; 3 mg/kg</text>
<line x1="134.20" y1="212.20" x2="143.80" y2="212.20" stroke-width="1.9"/>
<path d="M139.00 214.45 L141.25 210.40 L136.75 210.40Z" fill="#999" stroke="#0a0a0a" stroke-width="0.8"/>
<text x="149.0" y="214.8" font-size="7.27" text-anchor="start">Control-mAb-vcMMAE; 3 mg/kg</text>
</g>
<g id="panelD">
<text x="275.3" y="162.7" font-size="14.3" font-weight="bold" text-anchor="start">D</text>
<text x="366.8" y="163.3" font-size="8.7" font-weight="bold" text-anchor="middle">Nalm-6</text>
<line x1="296.00" y1="268.10" x2="438.20" y2="268.10" stroke-width="1.45"/>
<line x1="296.00" y1="268.10" x2="296.00" y2="173.90" stroke-width="1.45"/>
<line x1="296.00" y1="268.10" x2="296.00" y2="271.30" stroke-width="1.45"/>
<text x="296.0" y="277.7" font-size="6.6" font-weight="bold" text-anchor="middle">0</text>
<line x1="343.40" y1="268.10" x2="343.40" y2="271.30" stroke-width="1.45"/>
<text x="343.4" y="277.7" font-size="6.6" font-weight="bold" text-anchor="middle">50</text>
<line x1="390.80" y1="268.10" x2="390.80" y2="271.30" stroke-width="1.45"/>
<text x="390.8" y="277.7" font-size="6.6" font-weight="bold" text-anchor="middle">100</text>
<line x1="438.20" y1="268.10" x2="438.20" y2="271.30" stroke-width="1.45"/>
<text x="438.2" y="277.7" font-size="6.6" font-weight="bold" text-anchor="middle">150</text>
<line x1="292.80" y1="268.10" x2="296.00" y2="268.10" stroke-width="1.45"/>
<text x="292.2" y="270.08" font-size="6.6" font-weight="bold" text-anchor="end">0</text>
<line x1="292.80" y1="249.26" x2="296.00" y2="249.26" stroke-width="1.45"/>
<text x="292.2" y="251.24" font-size="6.6" font-weight="bold" text-anchor="end">20</text>
<line x1="292.80" y1="230.42" x2="296.00" y2="230.42" stroke-width="1.45"/>
<text x="292.2" y="232.4" font-size="6.6" font-weight="bold" text-anchor="end">40</text>
<line x1="292.80" y1="211.58" x2="296.00" y2="211.58" stroke-width="1.45"/>
<text x="292.2" y="213.56" font-size="6.6" font-weight="bold" text-anchor="end">60</text>
<line x1="292.80" y1="192.74" x2="296.00" y2="192.74" stroke-width="1.45"/>
<text x="292.2" y="194.72" font-size="6.6" font-weight="bold" text-anchor="end">80</text>
<line x1="292.80" y1="173.90" x2="296.00" y2="173.90" stroke-width="1.45"/>
<text x="292.2" y="175.88" font-size="6.6" font-weight="bold" text-anchor="end">100</text>
<text x="366.9" y="289.5" font-size="7.62" font-weight="bold" text-anchor="middle">Days after cell implant</text>
<text x="276" y="221" font-size="7.75" font-weight="bold" text-anchor="middle" transform="rotate(-90 276 221)">Percent survival</text>
<path d="M296.00 173.90 L329.27 173.90 L329.27 183.32 L331.27 183.32 L331.27 192.74 L332.21 192.74 L332.21 202.16 L335.44 202.16 L335.44 230.42 L340.27 230.42 L340.27 239.84 L341.03 239.84 L341.03 249.26 L341.98 249.26 L341.98 258.68 L342.74 258.68 L342.74 268.10" fill="none" stroke-width="1.9" stroke-linejoin="miter"/>
<circle cx="329.27" cy="183.32" r="1.8" fill="#0a0a0a" stroke="none"/>
<circle cx="331.27" cy="192.74" r="1.8" fill="#0a0a0a" stroke="none"/>
<circle cx="332.21" cy="202.16" r="1.8" fill="#0a0a0a" stroke="none"/>
<circle cx="335.44" cy="211.58" r="1.8" fill="#0a0a0a" stroke="none"/>
<circle cx="335.44" cy="230.42" r="1.8" fill="#0a0a0a" stroke="none"/>
<circle cx="340.27" cy="239.84" r="1.8" fill="#0a0a0a" stroke="none"/>
<circle cx="341.03" cy="249.26" r="1.8" fill="#0a0a0a" stroke="none"/>
<circle cx="341.98" cy="258.68" r="1.8" fill="#0a0a0a" stroke="none"/>
<circle cx="342.74" cy="268.10" r="1.8" fill="#0a0a0a" stroke="none"/>
<path d="M296.00 173.90 L332.21 173.90 L332.21 183.32 L334.20 183.32 L334.20 202.16 L335.44 202.16 L335.44 211.58 L338.57 211.58 L338.57 230.42 L340.27 230.42 L340.27 239.84 L341.50 239.84 L341.50 249.26 L346.43 249.26 L346.43 258.68 L351.27 258.68 L351.27 268.10" fill="none" stroke-width="1.9" stroke-linejoin="miter"/>
<path d="M332.21 185.00 L333.89 181.98 L330.53 181.98Z" fill="#0a0a0a" stroke="none"/>
<path d="M338.57 213.26 L340.25 210.24 L336.89 210.24Z" fill="#0a0a0a" stroke="none"/>
<path d="M338.57 232.10 L340.25 229.08 L336.89 229.08Z" fill="#0a0a0a" stroke="none"/>
<path d="M341.50 250.94 L343.18 247.92 L339.82 247.92Z" fill="#0a0a0a" stroke="none"/>
<path d="M346.43 260.36 L348.11 257.34 L344.75 257.34Z" fill="#0a0a0a" stroke="none"/>
<path d="M351.27 269.78 L352.95 266.76 L349.59 266.76Z" fill="#0a0a0a" stroke="none"/>
<path d="M296.00 173.90 L345.20 173.90 L345.20 183.32 L348.80 183.32 L348.80 211.58 L352.50 211.58 L352.50 221.00 L374.59 221.00 L374.59 239.84 L415.54 239.84" fill="none" stroke-width="1.9" stroke-linejoin="miter"/>
<path d="M345.58 181.25 L347.65 183.32 L345.58 185.39 L343.51 183.32Z" fill="#0a0a0a" stroke="none"/>
<path d="M351.46 209.51 L353.53 211.58 L351.46 213.65 L349.39 211.58Z" fill="#0a0a0a" stroke="none"/>
<path d="M352.50 218.93 L354.57 221.00 L352.50 223.07 L350.43 221.00Z" fill="#0a0a0a" stroke="none"/>
<path d="M374.59 237.77 L376.66 239.84 L374.59 241.91 L372.52 239.84Z" fill="#0a0a0a" stroke="none"/>
<path d="M415.54 237.77 L417.61 239.84 L415.54 241.91 L413.47 239.84Z" fill="#0a0a0a" stroke="none"/>
<path d="M296.00 173.90 L340.27 173.90 L340.27 202.16 L347.67 202.16 L347.67 211.58 L352.12 211.58 L352.12 221.00 L361.51 221.00 L361.51 230.42 L385.78 230.42 L385.78 239.84 L402.46 239.84 L402.46 258.21 L415.54 258.21" fill="none" stroke-width="1.9" stroke-linejoin="miter"/>
<path d="M340.27 181.64 L341.95 184.66 L338.59 184.66Z" fill="#0a0a0a" stroke="none"/>
<path d="M340.27 200.48 L341.95 203.50 L338.59 203.50Z" fill="#0a0a0a" stroke="none"/>
<path d="M343.87 200.48 L345.55 203.50 L342.19 203.50Z" fill="#0a0a0a" stroke="none"/>
<path d="M347.67 209.90 L349.35 212.92 L345.99 212.92Z" fill="#0a0a0a" stroke="none"/>
<path d="M352.12 219.32 L353.80 222.34 L350.44 222.34Z" fill="#0a0a0a" stroke="none"/>
<path d="M361.51 228.74 L363.19 231.76 L359.83 231.76Z" fill="#0a0a0a" stroke="none"/>
<path d="M385.78 238.16 L387.46 241.18 L384.10 241.18Z" fill="#0a0a0a" stroke="none"/>
<path d="M402.27 247.58 L403.95 250.60 L400.59 250.60Z" fill="#0a0a0a" stroke="none"/>
<path d="M402.93 256.53 L404.61 259.55 L401.25 259.55Z" fill="#0a0a0a" stroke="none"/>
<path d="M415.45 256.53 L417.13 259.55 L413.77 259.55Z" fill="#0a0a0a" stroke="none"/>
<line x1="396.80" y1="179.80" x2="406.80" y2="179.80" stroke-width="1.9"/>
<circle cx="401.80" cy="179.80" r="1.8" fill="#0a0a0a" stroke="none"/>
<text x="412.4" y="182.4" font-size="7.7" text-anchor="start">Untreated</text>
<line x1="396.80" y1="191.00" x2="406.80" y2="191.00" stroke-width="1.9"/>
<path d="M401.80 193.02 L403.82 189.39 L399.78 189.39Z" fill="#0a0a0a" stroke="none"/>
<text x="412.4" y="193.6" font-size="7.7" text-anchor="start">hBU12-vcMMAE; 1 mg/kg</text>
<line x1="396.80" y1="202.00" x2="406.80" y2="202.00" stroke-width="1.9"/>
<path d="M401.80 199.93 L403.87 202.00 L401.80 204.07 L399.73 202.00Z" fill="#0a0a0a" stroke="none"/>
<text x="412.4" y="204.6" font-size="7.7" text-anchor="start">hBU12-vcMMAE; 3 mg/kg</text>
<line x1="396.80" y1="212.60" x2="406.80" y2="212.60" stroke-width="1.9"/>
<path d="M401.80 210.58 L403.82 214.21 L399.78 214.21Z" fill="#0a0a0a" stroke="none"/>
<text x="412.4" y="215.2" font-size="7.7" text-anchor="start">control-mAb-vcMMAE; 3 mg/kg</text>
</g>
<g id="panelE">
<text x="9.0" y="315.0" font-size="14.3" font-weight="bold" text-anchor="start">E</text>
<line x1="34.00" y1="407.00" x2="160.51" y2="407.00" stroke-width="1.45"/>
<line x1="34.00" y1="407.00" x2="34.00" y2="323.86" stroke-width="1.45"/>
<line x1="34.00" y1="407.00" x2="34.00" y2="410.60" stroke-width="1.45"/>
<text x="34.0" y="415.5" font-size="5.6" font-weight="bold" text-anchor="middle">0</text>
<line x1="76.17" y1="407.00" x2="76.17" y2="410.60" stroke-width="1.45"/>
<text x="76.17" y="415.5" font-size="5.6" font-weight="bold" text-anchor="middle">10</text>
<line x1="118.34" y1="407.00" x2="118.34" y2="410.60" stroke-width="1.45"/>
<text x="118.34" y="415.5" font-size="5.6" font-weight="bold" text-anchor="middle">20</text>
<line x1="160.51" y1="407.00" x2="160.51" y2="410.60" stroke-width="1.45"/>
<text x="160.51" y="415.5" font-size="5.6" font-weight="bold" text-anchor="middle">30</text>
<line x1="30.40" y1="407.00" x2="34.00" y2="407.00" stroke-width="1.45"/>
<text x="29.8" y="408.62" font-size="5.6" font-weight="bold" text-anchor="end">15</text>
<line x1="30.40" y1="379.29" x2="34.00" y2="379.29" stroke-width="1.45"/>
<text x="29.8" y="380.9" font-size="5.6" font-weight="bold" text-anchor="end">20</text>
<line x1="30.40" y1="351.57" x2="34.00" y2="351.57" stroke-width="1.45"/>
<text x="29.8" y="353.19" font-size="5.6" font-weight="bold" text-anchor="end">25</text>
<line x1="30.40" y1="323.86" x2="34.00" y2="323.86" stroke-width="1.45"/>
<text x="29.8" y="325.47" font-size="5.6" font-weight="bold" text-anchor="end">30</text>
<text x="96.9" y="425.8" font-size="6.8" font-weight="bold" text-anchor="middle">Days after tumor implant</text>
<text x="20.0" y="365.5" font-size="7.0" font-weight="bold" text-anchor="middle" transform="rotate(-90 20.0 365.5)">Body Weight (g)</text>
<path d="M34.00 377.07 L59.30 372.63 L88.82 367.09 L126.77 369.03 L147.86 367.64" fill="none" stroke-width="1.5" stroke-linejoin="round"/>
<line x1="34.00" y1="368.75" x2="34.00" y2="385.38" stroke-width="1.1"/>
<line x1="32.00" y1="368.75" x2="36.00" y2="368.75" stroke-width="1.1"/>
<line x1="32.00" y1="385.38" x2="36.00" y2="385.38" stroke-width="1.1"/>
<line x1="59.30" y1="364.87" x2="59.30" y2="380.39" stroke-width="1.1"/>
<line x1="57.30" y1="364.87" x2="61.30" y2="364.87" stroke-width="1.1"/>
<line x1="57.30" y1="380.39" x2="61.30" y2="380.39" stroke-width="1.1"/>
<line x1="88.82" y1="358.78" x2="88.82" y2="375.40" stroke-width="1.1"/>
<line x1="86.82" y1="358.78" x2="90.82" y2="358.78" stroke-width="1.1"/>
<line x1="86.82" y1="375.40" x2="90.82" y2="375.40" stroke-width="1.1"/>
<line x1="126.77" y1="360.16" x2="126.77" y2="377.90" stroke-width="1.1"/>
<line x1="124.77" y1="360.16" x2="128.77" y2="360.16" stroke-width="1.1"/>
<line x1="124.77" y1="377.90" x2="128.77" y2="377.90" stroke-width="1.1"/>
<line x1="147.86" y1="358.22" x2="147.86" y2="377.07" stroke-width="1.1"/>
<line x1="145.86" y1="358.22" x2="149.86" y2="358.22" stroke-width="1.1"/>
<line x1="145.86" y1="377.07" x2="149.86" y2="377.07" stroke-width="1.1"/>
<circle cx="34.00" cy="377.07" r="1.6" fill="#0a0a0a" stroke="none"/>
<circle cx="59.30" cy="372.63" r="1.6" fill="#0a0a0a" stroke="none"/>
<circle cx="88.82" cy="367.09" r="1.6" fill="#0a0a0a" stroke="none"/>
<circle cx="126.77" cy="369.03" r="1.6" fill="#0a0a0a" stroke="none"/>
<circle cx="147.86" cy="367.64" r="1.6" fill="#0a0a0a" stroke="none"/>
<path d="M34.00 370.97 L59.30 370.42 L88.82 365.98 L126.77 363.21 L147.86 363.76" fill="none" stroke-width="1.5" stroke-linejoin="round"/>
<line x1="34.00" y1="362.10" x2="34.00" y2="379.84" stroke-width="1.1"/>
<line x1="32.00" y1="362.10" x2="36.00" y2="362.10" stroke-width="1.1"/>
<line x1="32.00" y1="379.84" x2="36.00" y2="379.84" stroke-width="1.1"/>
<line x1="59.30" y1="360.99" x2="59.30" y2="379.84" stroke-width="1.1"/>
<line x1="57.30" y1="360.99" x2="61.30" y2="360.99" stroke-width="1.1"/>
<line x1="57.30" y1="379.84" x2="61.30" y2="379.84" stroke-width="1.1"/>
<line x1="88.82" y1="354.90" x2="88.82" y2="377.07" stroke-width="1.1"/>
<line x1="86.82" y1="354.90" x2="90.82" y2="354.90" stroke-width="1.1"/>
<line x1="86.82" y1="377.07" x2="90.82" y2="377.07" stroke-width="1.1"/>
<line x1="126.77" y1="346.58" x2="126.77" y2="379.84" stroke-width="1.1"/>
<line x1="124.77" y1="346.58" x2="128.77" y2="346.58" stroke-width="1.1"/>
<line x1="124.77" y1="379.84" x2="128.77" y2="379.84" stroke-width="1.1"/>
<line x1="147.86" y1="354.90" x2="147.86" y2="372.63" stroke-width="1.1"/>
<line x1="145.86" y1="354.90" x2="149.86" y2="354.90" stroke-width="1.1"/>
<line x1="145.86" y1="372.63" x2="149.86" y2="372.63" stroke-width="1.1"/>
<rect x="32.40" y="369.37" width="3.2" height="3.2" fill="#0a0a0a" stroke="none"/>
<rect x="57.70" y="368.82" width="3.2" height="3.2" fill="#0a0a0a" stroke="none"/>
<rect x="87.22" y="364.38" width="3.2" height="3.2" fill="#0a0a0a" stroke="none"/>
<rect x="125.17" y="361.61" width="3.2" height="3.2" fill="#0a0a0a" stroke="none"/>
<rect x="146.26" y="362.16" width="3.2" height="3.2" fill="#0a0a0a" stroke="none"/>
<path d="M34.00 373.74 L59.30 374.30 L88.82 369.03 L126.77 369.86 L147.86 370.42" fill="none" stroke-width="1.5" stroke-linejoin="round"/>
<line x1="34.00" y1="365.98" x2="34.00" y2="381.50" stroke-width="1.1"/>
<line x1="32.00" y1="365.98" x2="36.00" y2="365.98" stroke-width="1.1"/>
<line x1="32.00" y1="381.50" x2="36.00" y2="381.50" stroke-width="1.1"/>
<line x1="59.30" y1="361.55" x2="59.30" y2="387.05" stroke-width="1.1"/>
<line x1="57.30" y1="361.55" x2="61.30" y2="361.55" stroke-width="1.1"/>
<line x1="57.30" y1="387.05" x2="61.30" y2="387.05" stroke-width="1.1"/>
<line x1="88.82" y1="356.28" x2="88.82" y2="381.78" stroke-width="1.1"/>
<line x1="86.82" y1="356.28" x2="90.82" y2="356.28" stroke-width="1.1"/>
<line x1="86.82" y1="381.78" x2="90.82" y2="381.78" stroke-width="1.1"/>
<line x1="126.77" y1="360.44" x2="126.77" y2="379.29" stroke-width="1.1"/>
<line x1="124.77" y1="360.44" x2="128.77" y2="360.44" stroke-width="1.1"/>
<line x1="124.77" y1="379.29" x2="128.77" y2="379.29" stroke-width="1.1"/>
<line x1="147.86" y1="360.99" x2="147.86" y2="379.84" stroke-width="1.1"/>
<line x1="145.86" y1="360.99" x2="149.86" y2="360.99" stroke-width="1.1"/>
<line x1="145.86" y1="379.84" x2="149.86" y2="379.84" stroke-width="1.1"/>
<path d="M34.00 371.95 L35.79 375.18 L32.21 375.18Z" fill="#0a0a0a" stroke="none"/>
<path d="M59.30 372.50 L61.09 375.73 L57.51 375.73Z" fill="#0a0a0a" stroke="none"/>
<path d="M88.82 367.24 L90.61 370.46 L87.03 370.46Z" fill="#0a0a0a" stroke="none"/>
<path d="M126.77 368.07 L128.57 371.30 L124.98 371.30Z" fill="#0a0a0a" stroke="none"/>
<path d="M147.86 368.62 L149.65 371.85 L146.07 371.85Z" fill="#0a0a0a" stroke="none"/>
<line x1="168.30" y1="329.20" x2="178.50" y2="329.20" stroke-width="1.9"/>
<circle cx="173.40" cy="329.20" r="1.8" fill="#0a0a0a" stroke="none"/>
<text x="183" y="331.6" font-size="6.76" text-anchor="start">Untreated</text>
<line x1="168.30" y1="338.80" x2="178.50" y2="338.80" stroke-width="1.9"/>
<rect x="171.60" y="337.00" width="3.6" height="3.6" fill="#0a0a0a" stroke="none"/>
<text x="183" y="341.2" font-size="6.76" text-anchor="start">hBU12vcMMAE 1mg/kg</text>
<line x1="168.30" y1="348.50" x2="178.50" y2="348.50" stroke-width="1.9"/>
<path d="M173.40 346.48 L175.42 350.11 L171.38 350.11Z" fill="#0a0a0a" stroke="none"/>
<text x="183" y="350.9" font-size="6.76" text-anchor="start">hBU12vcMMAE 3 mg/kg</text>
</g>
</svg>
</body></html>
